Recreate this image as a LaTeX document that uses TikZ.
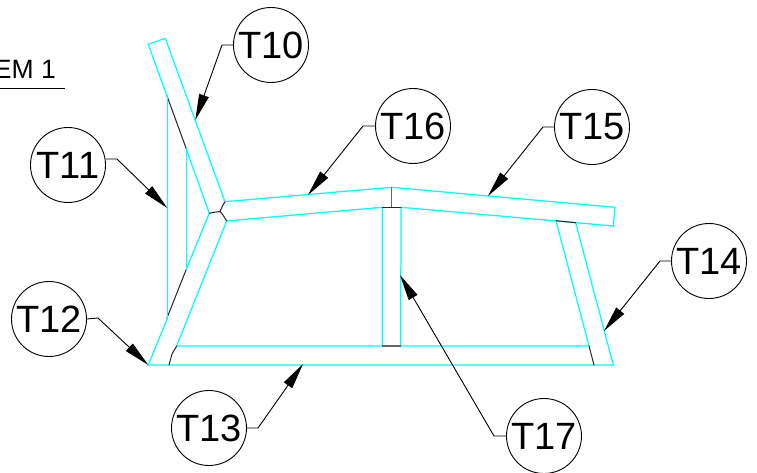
\documentclass[tikz,border=0pt]{standalone}
\usepackage{fontspec}
\setmainfont{Liberation Sans}
\usetikzlibrary{arrows.meta}
\definecolor{cadcyan}{RGB}{0,255,255}
\tikzset{
  frame/.style={draw=cadcyan,line width=1.25pt,line cap=round,line join=miter},
  seam/.style={draw=black!85,line width=1pt,line cap=round},
  greyseam/.style={draw=black!60,line width=1.3pt},
  tag/.style={circle,draw=black,line width=0.9pt,minimum size=75pt,inner sep=0pt,font=\fontsize{38}{38}\selectfont,fill=white},
  leader/.style={draw=black,line width=0.9pt,-{Triangle[length=26pt,width=10pt]}},
}
\begin{document}
\begin{tikzpicture}[x=1pt,y=-1pt]
\useasboundingbox (0,0) rectangle (757,473);
\fill[white] (0,0) rectangle (757,473);
% title
\node[anchor=base east,inner sep=0pt,font=\fontsize{26.5}{26.5}\selectfont] (title) at (56,79) {EM 1};
\coordinate (ula) at (0,88.5); \coordinate (ulb) at (65,88.5);
\draw[black,line width=0.9pt] (ula) -- (ulb);
% cyan frame
\draw[frame] (167,96) -- (148.3,44.3) -- (165.3,38.3) -- (225,201.7) -- (391.7,187.3) -- (615,207.3) -- (613.3,226) -- (401,207.3) -- (400.7,346);
\draw[frame] (186,148) -- (209.3,213.3) -- (186,270);
\draw[frame] (167.5,318) -- (148.3,365) -- (613.3,365) -- (575.7,222.7);
\draw[frame] (226.7,221) -- (176.7,346) -- (589,346) -- (556,220.7);
\draw[frame] (226.7,221) -- (382.3,207.3) -- (382.3,346);
\draw[frame] (186.5,148) -- (186.5,270);
% dark seams
\draw[seam] (167,96) -- (186,148);
\draw[seam] (186,270) -- (167,318);
\draw[seam] (176.7,346) -- (172,354) -- (169,365);
\draw[seam] (589,346) -- (594,365);
\draw[seam] (556,220.7) -- (575.7,222.7);
\draw[seam] (209.3,213.3) -- (213,212.5) -- (220,211.5) -- (222.5,206) -- (225,201.7);
\draw[seam] (220,211.5) -- (223,215) -- (226.7,221);
\draw[greyseam] (391.7,187.3) -- (391.7,207);
\draw[seam] (382.3,207.3) -- (401,207.3);
\draw[greyseam] (382,346) -- (400.7,346);
% tags
\node[tag] (t10) at (271,45) {T10};
\node[tag] (t11) at (68,165) {T11};
\node[tag] (t12) at (49,319) {T12};
\node[tag] (t13) at (209,428) {T13};
\node[tag] (t14) at (709,261) {T14};
\node[tag] (t15) at (592,127) {T15};
\node[tag] (t16) at (413,126) {T16};
\node[tag] (t17) at (544,436) {T17};
% leader ends
\coordinate (a10) at (222,45);  \coordinate (p10) at (195.3,120);
\coordinate (a11) at (117,159); \coordinate (p11) at (167.3,208);
\coordinate (a12) at (98,318);  \coordinate (p12) at (148.3,365);
\coordinate (a13) at (258,428); \coordinate (p13) at (303,364);
\coordinate (a14) at (660,261); \coordinate (p14) at (604,331);
\coordinate (a15) at (543,127); \coordinate (p15) at (488,196);
\coordinate (a16) at (363,126); \coordinate (p16) at (308,195);
\coordinate (a17) at (494,436); \coordinate (p17) at (400,275);
\draw[leader] (t10.west) -- (a10) -- (p10);
\draw[leader] (t11.east |- a11) -- (a11) -- (p11);
\draw[leader] (t12.east) -- (a12) -- (p12);
\draw[leader] (t13.east) -- (a13) -- (p13);
\draw[leader] (t14.west) -- (a14) -- (p14);
\draw[leader] (t15.west) -- (a15) -- (p15);
\draw[leader] (t16.west) -- (a16) -- (p16);
\draw[leader] (t17.west) -- (a17) -- (p17);
\draw[draw=cadcyan,line width=1.6pt] (167.5,96) -- (167.5,208);
\draw[draw=cadcyan,line width=1.6pt] (167.5,208) -- (167.5,318);
\end{tikzpicture}
\end{document}
